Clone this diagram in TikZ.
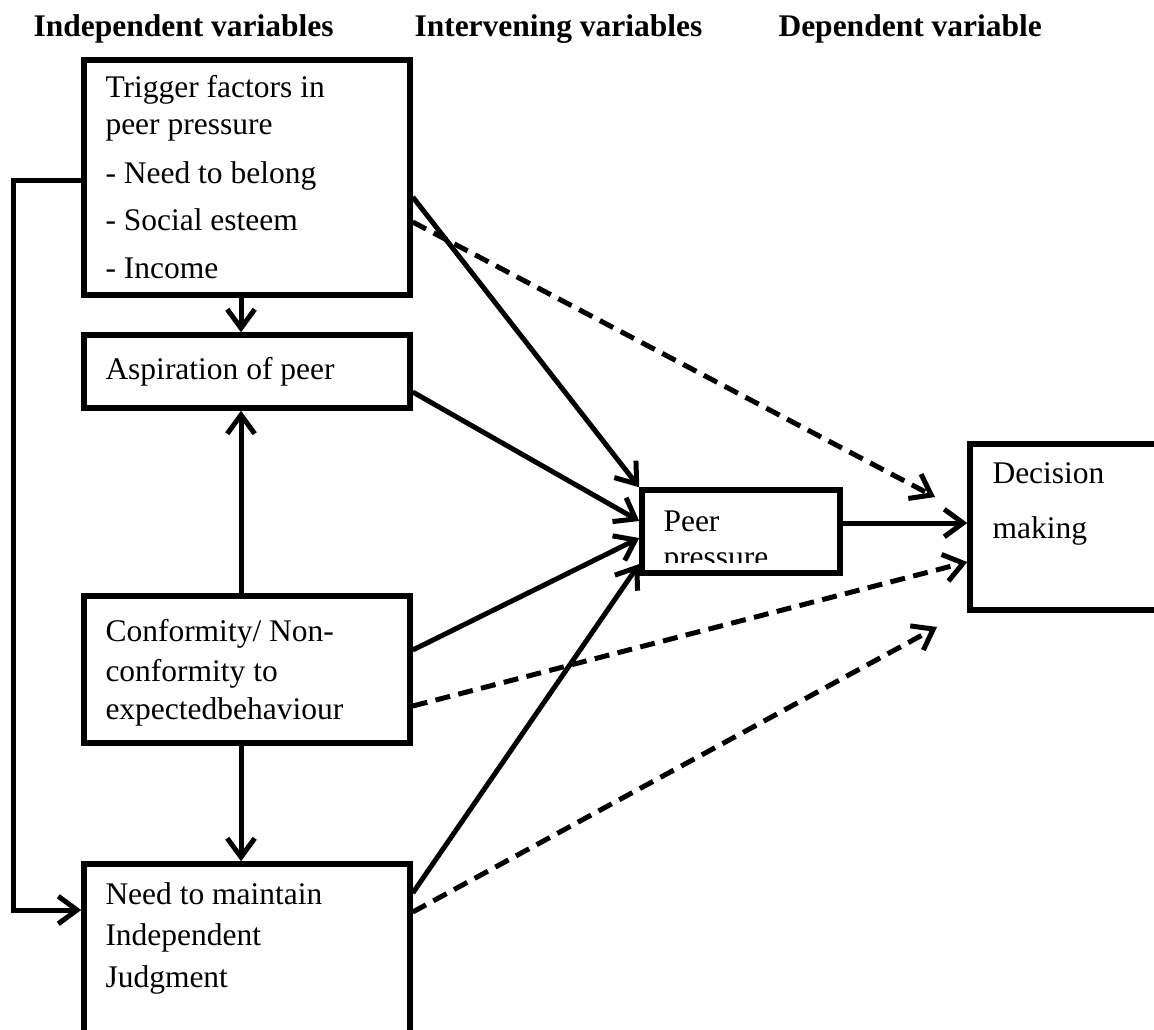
\documentclass[tikz,border=0pt]{standalone}
\usepackage{fontspec}
\setmainfont{Liberation Serif}
\usetikzlibrary{arrows.meta,calc}
\begin{document}
\begin{tikzpicture}[x=0.4pt,y=-0.4pt,
  box/.style={draw,line width=2.2pt,inner sep=0pt,rectangle},
  txt/.style={anchor=base west,inner sep=0pt,font=\fontsize{12.6}{15}\selectfont},
  hdr/.style={anchor=base west,inner sep=0pt,font=\fontsize{12.6}{15}\selectfont\bfseries},
  conn/.style={line width=2pt,-{Straight Barb[length=7.5pt,width=11pt]}},
  dconn/.style={conn,dash pattern=on 6pt off 3.4pt},
  plainline/.style={line width=2pt}]
\useasboundingbox (0,0) rectangle (1154,1029);
\clip (0,0) rectangle (1154,1029);
% headers
\node[hdr] (h1) at (33,36) {Independent variables};
\node[hdr] (h2) at (414,36) {Intervening variables};
\node[hdr] (h3) at (778,36) {Dependent variable};
% boxes
\node[box,minimum width=130.4pt,minimum height=94pt] (b1) at (247,177.5) {};
\node[box,minimum width=130.4pt,minimum height=29.2pt] (b2) at (247,371.5) {};
\node[box,minimum width=130.4pt,minimum height=58.8pt] (b3) at (247,669.5) {};
\node[box,minimum width=130.4pt,minimum height=78.4pt] (b4) at (247,962) {};
\node[box,minimum width=79.2pt,minimum height=33.2pt] (p) at (741,531.5) {};
\node[box,minimum width=92pt,minimum height=66.4pt] (dm) at (1085,527) {};
% texts
\node[txt] (t11) at (105,97) {Trigger factors in};
\node[txt] (t12) at (105,134) {peer pressure};
\node[txt] (t13) at (105,183) {- Need to belong};
\node[txt] (t14) at (105,230) {- Social esteem};
\node[txt] (t15) at (105,278) {- Income};
\node[txt] (t21) at (105,379) {Aspiration of peer};
\node[txt] (t31) at (105,641) {Conformity/ Non-};
\node[txt] (t32) at (105,681) {conformity to};
\node[txt] (t33) at (105,719) {expectedbehaviour};
\node[txt] (t41) at (105,904) {Need to maintain};
\node[txt] (t42) at (105,945) {Independent};
\node[txt] (t43) at (105,987) {Judgment};
\node[txt] (tp1) at (663,531) {Peer};
\begin{scope}
\clip (642,490) rectangle (840,562);
\node[txt] (tp2) at (663,567) {pressure};
\end{scope}
\node[txt] (td1) at (992,483) {Decision};
\node[txt] (td2) at (992,538) {making};
% free ends
\coordinate (e1) at (935,497);
\coordinate (e2) at (937,627);
% vertical arrows
\draw[conn] (b1.south -| 241,0) -- (b2.north -| 241,0);
\draw[conn] (b3.north -| 241,0) -- (b2.south -| 241,0);
\draw[conn] (b3.south -| 241,0) -- (b4.north -| 241,0);
% feedback
\draw[conn] (b1.west |- 0,180) -- (13,180) -- (13,910) -- (b4.west |- 0,910);
% solid to peer pressure
\draw[conn] (b1.east |- 0,197) -- (p.north west);
\draw[conn] (b2.east |- 0,392) -- (p.west |- 0,521);
\draw[conn] (b3.east |- 0,650) -- (p.west |- 0,538);
\draw[conn] (b4.east |- 0,893) -- (p.west |- 0,564);
% peer to decision
\draw[conn] (p.east |- 0,523) -- (dm.west |- 0,523);
% dashed
\draw[dconn] (b1.east |- 0,222) -- (e1);
\draw[dconn] (b3.east |- 0,706) -- (dm.west |- 0,562);
\draw[dconn] (b4.east |- 0,912) -- (e2);
\end{tikzpicture}
\end{document}
